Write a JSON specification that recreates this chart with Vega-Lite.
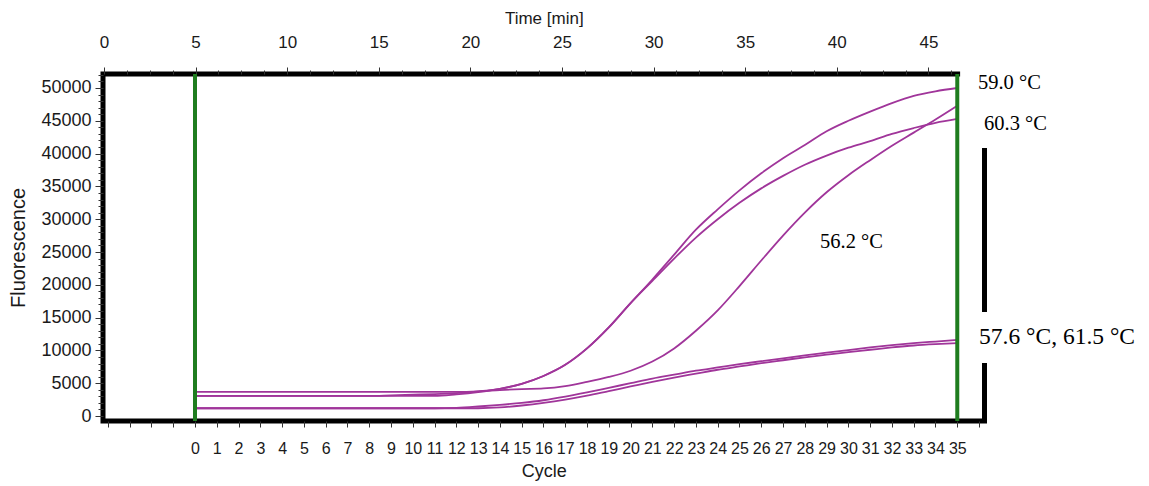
{
  "$schema": "https://vega.github.io/schema/vega-lite/v6.json",
  "width": 881.5,
  "height": 347,
  "autosize": {"type": "none"},
  "padding": {"left": 103, "top": 74, "right": 164.5, "bottom": 65},
  "background": "white",
  "config": {"view": {"stroke": "black", "strokeWidth": 5}, "font": "Liberation Sans"},
  "datasets": {
    "curves": [
      {"cycle": 0, "A": 3060, "B": 3060, "C": 3670, "D": 1180, "E": 1180},
      {"cycle": 1, "A": 3060, "B": 3060, "C": 3670, "D": 1180, "E": 1180},
      {"cycle": 2, "A": 3060, "B": 3060, "C": 3670, "D": 1180, "E": 1180},
      {"cycle": 3, "A": 3060, "B": 3060, "C": 3670, "D": 1180, "E": 1180},
      {"cycle": 4, "A": 3060, "B": 3060, "C": 3670, "D": 1180, "E": 1180},
      {"cycle": 5, "A": 3060, "B": 3060, "C": 3670, "D": 1180, "E": 1180},
      {"cycle": 6, "A": 3060, "B": 3060, "C": 3670, "D": 1180, "E": 1180},
      {"cycle": 7, "A": 3060, "B": 3060, "C": 3670, "D": 1180, "E": 1180},
      {"cycle": 8, "A": 3060, "B": 3060, "C": 3670, "D": 1180, "E": 1180},
      {"cycle": 9, "A": 3150, "B": 3060, "C": 3670, "D": 1180, "E": 1180},
      {"cycle": 10, "A": 3250, "B": 3060, "C": 3670, "D": 1180, "E": 1180},
      {"cycle": 11, "A": 3350, "B": 3060, "C": 3670, "D": 1180, "E": 1180},
      {"cycle": 12, "A": 3500, "B": 3300, "C": 3670, "D": 1250, "E": 1180},
      {"cycle": 13, "A": 3750, "B": 3650, "C": 3750, "D": 1450, "E": 1180},
      {"cycle": 14, "A": 4150, "B": 4150, "C": 3950, "D": 1700, "E": 1300},
      {"cycle": 15, "A": 4900, "B": 4900, "C": 4100, "D": 2000, "E": 1600},
      {"cycle": 16, "A": 6100, "B": 6100, "C": 4200, "D": 2400, "E": 2000},
      {"cycle": 17, "A": 7800, "B": 7800, "C": 4550, "D": 2950, "E": 2500},
      {"cycle": 18, "A": 10300, "B": 10300, "C": 5200, "D": 3600, "E": 3100},
      {"cycle": 19, "A": 13500, "B": 13500, "C": 5950, "D": 4300, "E": 3800},
      {"cycle": 20, "A": 17200, "B": 17200, "C": 6900, "D": 5000, "E": 4500},
      {"cycle": 21, "A": 20800, "B": 20600, "C": 8300, "D": 5700, "E": 5200},
      {"cycle": 22, "A": 24600, "B": 24000, "C": 10300, "D": 6300, "E": 5850},
      {"cycle": 23, "A": 28400, "B": 27200, "C": 13000, "D": 6900, "E": 6450},
      {"cycle": 24, "A": 31500, "B": 30000, "C": 16100, "D": 7400, "E": 7050},
      {"cycle": 25, "A": 34400, "B": 32500, "C": 19800, "D": 7900, "E": 7550},
      {"cycle": 26, "A": 37000, "B": 34700, "C": 23700, "D": 8350, "E": 8050},
      {"cycle": 27, "A": 39300, "B": 36600, "C": 27500, "D": 8800, "E": 8500},
      {"cycle": 28, "A": 41300, "B": 38300, "C": 31000, "D": 9250, "E": 8950},
      {"cycle": 29, "A": 43400, "B": 39700, "C": 34100, "D": 9650, "E": 9350},
      {"cycle": 30, "A": 45000, "B": 40900, "C": 36700, "D": 10050, "E": 9750},
      {"cycle": 31, "A": 46400, "B": 41900, "C": 39000, "D": 10450, "E": 10100},
      {"cycle": 32, "A": 47700, "B": 43000, "C": 41200, "D": 10800, "E": 10450},
      {"cycle": 33, "A": 48800, "B": 43900, "C": 43200, "D": 11100, "E": 10750},
      {"cycle": 34, "A": 49500, "B": 44700, "C": 45200, "D": 11350, "E": 10950},
      {"cycle": 35, "A": 50000, "B": 45300, "C": 47300, "D": 11600, "E": 11100}
    ],
    "green": [{"cycle": 0}, {"cycle": 35}],
    "boxes": [
      {"cycle": 35.13, "cycle2": 45, "fl": 55000, "fl2": 40850},
      {"cycle": 35.13, "cycle2": 45, "fl": 15850, "fl2": 8080}
    ],
    "labels": [
      {"cycle": 35.95, "fl": 50760, "label": "59.0 °C"},
      {"cycle": 36.23, "fl": 44500, "label": "60.3 °C"},
      {"cycle": 28.7, "fl": 26600, "label": "56.2 °C"}
    ],
    "labels2": [
      {"cycle": 36.0, "fl": 12040, "label": "57.6 °C, 61.5 °C"}
    ]
  },
  "layer": [
    {
      "layer": [
        {
          "data": {"name": "curves"},
          "transform": [{"fold": ["A", "B", "C", "D", "E"], "as": ["series", "fl"]}],
          "mark": {"type": "line", "color": "#a0359a", "strokeWidth": 1.8, "interpolate": "monotone"},
          "encoding": {
            "x": {
              "field": "cycle", "type": "quantitative",
              "scale": {"domain": [-4.224, 36.25], "nice": false, "zero": false},
              "axis": {
                "orient": "bottom",
                "values": [-4, -3, -2, -1, 0, 1, 2, 3, 4, 5, 6, 7, 8, 9, 10, 11, 12, 13, 14, 15, 16, 17, 18, 19, 20, 21, 22, 23, 24, 25, 26, 27, 28, 29, 30, 31, 32, 33, 34, 35, 36],
                "tickCount": 200,
                "labelExpr": "datum.value >= 0 && datum.value <= 35 ? format(datum.value, 'd') : ''",
                "labelOverlap": false, "labelFlush": false, "labelBound": false,
                "domain": false, "grid": false,
                "tickSize": 6, "tickColor": "#333", "tickWidth": 1,
                "labelPadding": 13, "labelFontSize": 16, "labelColor": "#1a1a1a", "labelFont": "Liberation Sans",
                "title": "Cycle", "titleFontSize": 18, "titleFontWeight": "normal", "titleColor": "#1a1a1a", "titleFont": "Liberation Sans", "titlePadding": 6
              }
            },
            "y": {
              "field": "fl", "type": "quantitative",
              "scale": {"domain": [-762, 52134], "nice": false, "zero": false},
              "axis": {
                "values": [0, 1000, 2000, 3000, 4000, 5000, 6000, 7000, 8000, 9000, 10000, 11000, 12000, 13000, 14000, 15000, 16000, 17000, 18000, 19000, 20000, 21000, 22000, 23000, 24000, 25000, 26000, 27000, 28000, 29000, 30000, 31000, 32000, 33000, 34000, 35000, 36000, 37000, 38000, 39000, 40000, 41000, 42000, 43000, 44000, 45000, 46000, 47000, 48000, 49000, 50000, 51000, 52000],
                "tickCount": 200,
                "labelExpr": "datum.value % 5000 === 0 ? format(datum.value, 'd') : ''",
                "labelOverlap": false, "labelFlush": false, "labelBound": false,
                "domain": false, "grid": false,
                "tickSize": {"condition": {"test": "datum.value % 5000 === 0", "value": 8}, "value": 5},
                "tickColor": "#333", "tickWidth": 1,
                "labelPadding": 4, "labelFontSize": 18, "labelColor": "#1a1a1a", "labelFont": "Liberation Sans",
                "title": "Fluorescence", "titleFontSize": 20, "titleFontWeight": "normal", "titleColor": "#1a1a1a", "titleFont": "Liberation Sans", "titlePadding": 12
              }
            },
            "detail": {"field": "series"}
          }
        },
        {
          "data": {"name": "green"},
          "mark": {"type": "rule", "color": "#1f7d1f", "strokeWidth": 4},
          "encoding": {"x": {"field": "cycle", "type": "quantitative"}}
        },
        {
          "data": {"name": "boxes"},
          "mark": {"type": "rect", "fill": "white", "clip": false},
          "encoding": {
            "x": {"field": "cycle", "type": "quantitative"},
            "x2": {"field": "cycle2"},
            "y": {"field": "fl", "type": "quantitative"},
            "y2": {"field": "fl2"}
          }
        },
        {
          "data": {"name": "labels"},
          "mark": {"type": "text", "font": "Liberation Serif", "fontSize": 20.5, "align": "left", "baseline": "middle", "color": "black"},
          "encoding": {
            "x": {"field": "cycle", "type": "quantitative"},
            "y": {"field": "fl", "type": "quantitative"},
            "text": {"field": "label"}
          }
        },
        {
          "data": {"name": "labels2"},
          "mark": {"type": "text", "font": "Liberation Serif", "fontSize": 23.5, "align": "left", "baseline": "middle", "color": "black"},
          "encoding": {
            "x": {"field": "cycle", "type": "quantitative"},
            "y": {"field": "fl", "type": "quantitative"},
            "text": {"field": "label"}
          }
        }
      ]
    },
    {
      "data": {"values": [{"t": 0}]},
      "mark": {"type": "rule", "opacity": 0},
      "encoding": {
        "x": {
          "field": "t", "type": "quantitative",
          "scale": {"domain": [-0.05, 48.06], "nice": false, "zero": false},
          "axis": {
            "orient": "top",
            "values": [0, 1.25, 2.5, 3.75, 5, 6.25, 7.5, 8.75, 10, 11.25, 12.5, 13.75, 15, 16.25, 17.5, 18.75, 20, 21.25, 22.5, 23.75, 25, 26.25, 27.5, 28.75, 30, 31.25, 32.5, 33.75, 35, 36.25, 37.5, 38.75, 40, 41.25, 42.5, 43.75, 45, 46.25, 47.5],
            "tickCount": 200,
            "labelExpr": "datum.value % 5 === 0 && datum.value <= 45 ? format(datum.value, 'd') : ''",
            "labelOverlap": false, "labelFlush": false, "labelBound": false,
            "domain": false, "grid": false,
            "tickSize": {"condition": {"test": "datum.value % 5 === 0", "value": 7}, "value": 4},
            "tickColor": "#333", "tickWidth": 1,
            "labelPadding": 16, "labelFontSize": 17, "labelColor": "#1a1a1a", "labelFont": "Liberation Sans",
            "title": "Time [min]", "titleFontSize": 17, "titleFontWeight": "normal", "titleColor": "#1a1a1a", "titleFont": "Liberation Sans", "titlePadding": 6
          }
        }
      }
    }
  ],
  "resolve": {"scale": {"x": "independent"}, "axis": {"x": "independent"}}
}
